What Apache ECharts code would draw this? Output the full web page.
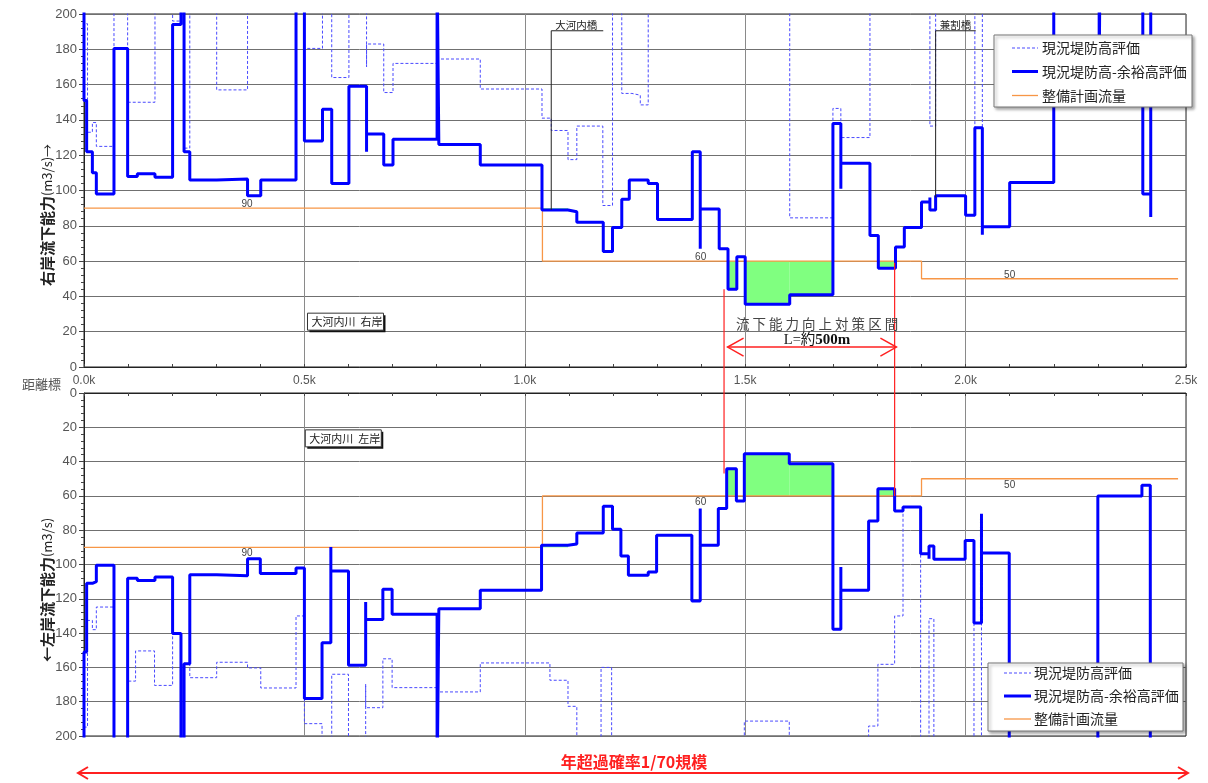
<!DOCTYPE html>
<html><head><meta charset="utf-8">
<script src="https://cdn.jsdelivr.net/npm/echarts@6/dist/echarts.min.js"></script>
<style>html,body{margin:0;padding:0;background:#fff}#c{width:1208px;height:783px}</style>
</head><body><div id="c"></div>
<script>
const JP = '"Noto Sans CJK JP", "Noto Sans", sans-serif';
const SANS = '"Liberation Sans", Arial, sans-serif';

// Series names
const NAME_DASH = '現況堤防高評価';
const NAME_SOLID = '現況堤防高-余裕高評価';
const NAME_PLAN = '整備計画流量';

// Distance (m) breakpoints; each value holds from its x up to the next x (values >200 run off the chart)
// Right bank (upper chart)
const rSolidX = [0,0,6,19,28,68,99,121,161,201,220,227,240,301,371,401,481,500,541,562,601,641,641,680,701,801,805,899,1039,1098,1118,1178,1199,1220,1237,1280,1301,1380,1398,1398,1441,1461,1481,1500,1601,1699,1717,1717,1783,1802,1841,1861,1900,1919,1919,1932,2000,2021,2038,2038,2100,2200,2303,2305,2402,2420,2420];
const rSolidY = [230,151,122,110,98,180.5,108,109.5,107.5,194,230,122,106,106.5,97,106,230,128,146,104,159,122,132,114.5,129,230,126,114.5,89,88,82,65.5,79,95,106,104,83.5,122,67,89.5,67,44,62.5,35.5,41,138,101,115.5,74.5,56,68,79,93.5,96,89,97,86,135.5,75,79.5,104.5,230,165,230,98,85,230];
const rDashX = [0,0,8,19,28,68,99,161,201,220,227,240,301,371,500,541,562,601,641,641,680,701,801,899,1039,1060,1098,1118,1177,1199,1220,1243,1262,1280,1601,1699,1717,1783,1919,1932,2021,2038,2421];
const rDashY = [230,194.5,133,138.5,125,230,150,230,196,230,124,230,157,230,180.5,230,164,230,170,183,155.5,172,174.5,157.5,141,134,117.5,136.5,91.5,230,155,154,148.5,230,84.5,146.5,130,230,136.5,230,135.5,230,230];
// Left bank (lower chart, inverted axis)
const lSolidX = [0,0,6,19,28,68,99,121,161,201,220,227,240,301,371,400,481,500,540,560,560,600,639,639,678,699,801,805,899,1038,1098,1118,1178,1199,1218,1235,1280,1299,1379,1398,1398,1439,1458,1480,1498,1600,1699,1717,1717,1780,1801,1839,1858,1898,1917,1917,1928,1999,2019,2036,2036,2099,2300,2400,2419];
const lSolidY = [230,151,111,110,100.5,230,108,109.3,107.3,140.3,230,157.8,106,106.5,96.6,105.3,102,178.2,145.6,89.8,103.8,158.8,121.9,132,114.5,129,230,125.8,115,88.8,88,81.6,66,79.5,95,106.3,104.4,83,121.3,67.4,88.8,67.4,44.1,63,35.4,41.2,137.8,101.5,115,74.6,55.8,68.8,66.5,93.7,96.6,89.2,97,86,134.1,70.4,93.3,230,60.1,53.8,230];
const lDashX = [0,0,8,19,28,68,99,117,160,201,220,227,240,301,371,401,481,500,540,562,600,639,639,678,699,801,899,1057,1098,1118,1173,1197,1498,1600,1780,1801,1839,1858,1898,1917,1928,2019,2036,2421];
const lDashY = [230,194.8,132.6,138,124.8,230,168,150.4,170.5,140.3,230,157.8,166,157,160.3,172,130,192.8,230,164,230,169.7,183.5,155,171.8,174.3,157.4,167.5,182.7,230,160,230,191.3,230,194.2,158.2,130,66.5,230,131.6,230,134.1,230,230];
// Planned discharge (both banks)
const planX = [0,1040,1900,2482];
const planY = [90,60,50,50];
const planLabelX = [370,1399,2100];
const planLabelV = ['90','60','50'];

// Annotations (data coordinates)
const bridges = [
  {name:'大河内橋', x:1060, base:89, top:190.5, end:1178},
  {name:'兼割橋', x:1932, base:96, top:190.5, end:2023}
];
const xTicks = ['0.0k','0.5k','1.0k','1.5k','2.0k','2.5k'];

const COL_DASH = '#4a4aff', COL_SOLID = '#0000ff', COL_PLAN = '#f79646';

const pairs = (xs, ys) => xs.map((x,i)=>[x, ys[i]]);
function planAt(x){ let v = planY[0]; for (let i=0;i<planX.length;i++) if (x >= planX[i]) v = planY[i]; return v; }
function deficit(xs, ys){
  const out = [];
  for (let i=0;i<xs.length-1;i++){
    const x0 = xs[i], x1 = xs[i+1];
    if (x1 <= x0) continue;
    const p = planAt(x0);
    if (ys[i] < p) out.push([x0, x1, ys[i], p]);
  }
  return out;
}

const chart = echarts.init(document.getElementById('c'));

function xAxis(gi){
  return {
    type:'value', gridIndex:gi, min:0, max:2500, interval:500,
    position: gi === 0 ? 'bottom' : 'top',
    axisLine:{show:true, onZero:false, lineStyle:{color:'#222'}},
    axisTick:{show:true, inside:true, length:3, lineStyle:{color:'#444'}},
    minorTick:{show:true, splitNumber:5, length:3, lineStyle:{color:'#444'}},
    axisLabel:{show: gi === 0, margin:8, color:'#555', fontFamily:SANS, fontSize:12,
      formatter:(v)=> xTicks[Math.round(v/500)]},
    splitLine:{show:true, lineStyle:{color:'#8a8a8a', width:1}}
  };
}
function yAxis(gi){
  return {
    type:'value', gridIndex:gi, min:0, max:200, interval:20, inverse: gi === 1,
    axisLine:{show:true, lineStyle:{color:'#222'}},
    axisTick:{show:true, length:5, lineStyle:{color:'#444'}},
    minorTick:{show:true, splitNumber:5, length:3, lineStyle:{color:'#444'}},
    axisLabel:{margin:7, color:'#555', fontFamily:SANS, fontSize:13},
    splitLine:{show:true, lineStyle:{color:'#707070', width:1}}
  };
}
function bankSeries(gi, sx, sy, dx, dy){
  return [
    {type:'custom', name:'不足', xAxisIndex:gi, yAxisIndex:gi, z:1,
      data: deficit(sx, sy), encode:{x:[0,1], y:[2,3]},
      renderItem:(params, api)=>{
        const a = api.coord([api.value(0), api.value(2)]);
        const b = api.coord([api.value(1), api.value(3)]);
        return {type:'rect', shape:{x:Math.min(a[0],b[0]), y:Math.min(a[1],b[1]),
          width:Math.abs(b[0]-a[0]), height:Math.abs(b[1]-a[1])},
          style:{fill:'#80ff80'}};
      }},
    {type:'line', name:NAME_DASH, xAxisIndex:gi, yAxisIndex:gi, step:'end', z:2,
      symbol:'none', data: pairs(dx, dy), animation:false,
      lineStyle:{color:COL_DASH, width:1, type:[3,2]}, itemStyle:{color:COL_DASH}},
    {type:'line', name:NAME_PLAN, xAxisIndex:gi, yAxisIndex:gi, step:'end', z:3,
      symbol:'none', data: pairs(planX, planY), animation:false,
      lineStyle:{color:COL_PLAN, width:1.3}, itemStyle:{color:COL_PLAN}},
    {type:'line', name:NAME_SOLID, xAxisIndex:gi, yAxisIndex:gi, step:'end', z:4,
      symbol:'none', data: pairs(sx, sy), animation:false,
      lineStyle:{color:COL_SOLID, width:3}, itemStyle:{color:COL_SOLID}}
  ];
}

chart.setOption({
  animation:false,
  grid:[
    {left:84, right:22, top:14, height:353, show:true, borderColor:'#222', borderWidth:1, backgroundColor:'#fff'},
    {left:84, right:22, top:393, height:343, show:true, borderColor:'#222', borderWidth:1, backgroundColor:'#fff'}
  ],
  xAxis:[xAxis(0), xAxis(1)],
  yAxis:[yAxis(0), yAxis(1)],
  series:[...bankSeries(0, rSolidX, rSolidY, rDashX, rDashY), ...bankSeries(1, lSolidX, lSolidY, lDashX, lDashY)]
});

function drawAnnotations(){
  const P = (gi, x, y) => chart.convertToPixel({xAxisIndex:gi, yAxisIndex:gi}, [x, y]);
  const g = [];
  const line = (a, b, color, w, dash) => g.push({type:'line', silent:true, z:100,
    shape:{x1:a[0], y1:a[1], x2:b[0], y2:b[1]}, style:{stroke:color, lineWidth:w || 1, lineDash:dash || null}});
  const poly = (pts, color, w) => g.push({type:'polyline', silent:true, z:100,
    shape:{points:pts}, style:{stroke:color, lineWidth:w || 1, fill:null}});
  const text = (x, y, t, opt) => g.push({type:'text', silent:true, z:101,
    style:Object.assign({x, y, text:t, fill:'#333', fontFamily:JP, fontSize:11,
      textAlign:'left', textVerticalAlign:'middle'}, opt || {})});

  // bridges
  bridges.forEach(b => {
    const p0 = P(0, b.x, b.base), p1 = P(0, b.x, b.top), p2 = P(0, b.end, b.top);
    line(p0, p1, '#222', 1);
    line(p1, p2, '#222', 1);
    text(p1[0] + 4, p1[1] - 1, b.name, {textVerticalAlign:'bottom', fontSize:10.5, fill:'#222'});
  });

  // planned discharge value labels
  planLabelX.forEach((x, i) => {
    const v = planY[i];
    const a = P(0, x, v), b = P(1, x, v);
    text(a[0], a[1] - 4, planLabelV[i], {textAlign:'center', fontFamily:SANS, fontSize:10, fill:'#444'});
    text(b[0], b[1] + 6, planLabelV[i], {textAlign:'center', fontFamily:SANS, fontSize:10, fill:'#444'});
  });

  // river labels with shadowed boxes
  const box = (gi, x, y, t) => {
    const p = P(gi, x, y);
    const w = 76, h = 17;
    g.push({type:'rect', silent:true, z:100, shape:{x:p[0]+2, y:p[1]+2, width:w, height:h}, style:{fill:'#111'}});
    g.push({type:'rect', silent:true, z:100, shape:{x:p[0], y:p[1], width:w, height:h}, style:{fill:'#fff', stroke:'#333', lineWidth:1}});
    text(p[0] + 4, p[1] + h/2 + 0.5, t, {fontSize:11, fill:'#222'});
  };
  box(0, 507, 30.5, '大河内川  右岸');
  box(1, 502, 21.5, '大河内川  左岸');

  // legends
  const legendBox = (x, y, w, h, rows, iconX0, iconX1, textX) => {
    g.push({type:'rect', silent:true, z:110, shape:{x, y, width:w, height:h},
      style:{fill:'#fff', stroke:'#777', lineWidth:1, shadowColor:'rgba(0,0,0,0.35)', shadowBlur:3, shadowOffsetX:2, shadowOffsetY:2}});
    const items = [
      {name:NAME_DASH, color:COL_DASH, w:1.2, dash:[3,2]},
      {name:NAME_SOLID, color:COL_SOLID, w:3, dash:null},
      {name:NAME_PLAN, color:COL_PLAN, w:1.3, dash:null}
    ];
    items.forEach((it, i) => {
      const yy = rows[i];
      g.push({type:'line', silent:true, z:112, shape:{x1:iconX0, y1:yy, x2:iconX1, y2:yy},
        style:{stroke:it.color, lineWidth:it.w, lineDash:it.dash}});
      g.push({type:'text', silent:true, z:112, style:{x:textX, y:yy, text:it.name, fill:'#222',
        fontFamily:JP, fontSize:14, textAlign:'left', textVerticalAlign:'middle'}});
    });
  };
  legendBox(994, 35, 198, 72, [48, 71.5, 95.5], 1012, 1038, 1042);
  legendBox(988, 663, 195, 68, [673, 696, 719], 1004, 1031, 1034);

  // improvement section: red verticals and dimension arrow
  const red = '#ff2020';
  line(P(0, 1452, 44), [P(0, 1452, 0)[0], P(1, 1452, 47)[1]], red, 1.2);
  line(P(0, 1839, 59), [P(0, 1839, 0)[0], P(1, 1839, 60)[1]], red, 1.2);
  const al = P(0, 1460, 11.3), ar = P(0, 1843, 11.3);
  line(al, ar, red, 1.5);
  poly([[al[0]+16, al[1]-9],[al[0], al[1]],[al[0]+16, al[1]+9]], red, 1.5);
  poly([[ar[0]-16, ar[1]-9],[ar[0], ar[1]],[ar[0]-16, ar[1]+9]], red, 1.5);
  const tc = P(0, 1663, 24.6);
  text(tc[0], tc[1], '流 下 能 力 向 上 対 策 区 間', {textAlign:'center', fontSize:13.5, fill:'#444'});
  const lc = P(0, 1663, 15.3);
  g.push({type:'text', silent:true, z:101, style:{x:lc[0], y:lc[1], textAlign:'center', textVerticalAlign:'middle',
    text:'{a|L=約}{b|500m}', rich:{
      a:{fontFamily:'"Liberation Serif", "Noto Sans CJK JP", serif', fontSize:14.5, fill:'#111'},
      b:{fontFamily:'"Liberation Serif", serif', fontSize:15, fontWeight:'bold', fill:'#111'}}}});

  // axis titles
  g.push({type:'text', silent:true, z:101, x:47, y:215, rotation:Math.PI/2,
    style:{x:0, y:0, textAlign:'center', textVerticalAlign:'middle',
      text:'{b|右岸流下能力}{n|(m3/s)→}', rich:{
        b:{fontFamily:JP, fontSize:15, fontWeight:'bold', fill:'#222'},
        n:{fontFamily:JP, fontSize:13, fill:'#222'}}}});
  g.push({type:'text', silent:true, z:101, x:47, y:590, rotation:Math.PI/2,
    style:{x:0, y:0, textAlign:'center', textVerticalAlign:'middle',
      text:'{b|←左岸流下能力}{n|(m3/s)}', rich:{
        b:{fontFamily:JP, fontSize:15, fontWeight:'bold', fill:'#222'},
        n:{fontFamily:JP, fontSize:13, fill:'#222'}}}});
  text(22, 384, '距離標', {fontSize:13, fill:'#555'});

  // return period arrow at the bottom
  const yA = 773, xl = 78, xr = 1188;
  line([xl, yA], [xr, yA], red, 2);
  poly([[xl+10, yA-6],[xl, yA],[xl+10, yA+6]], red, 2);
  poly([[xr-10, yA-6],[xr, yA],[xr-10, yA+6]], red, 2);
  text(634, 762, '年超過確率1/70規模', {textAlign:'center', fontSize:16, fontWeight:'bold', fill:red});

  chart.setOption({graphic:g});
}
drawAnnotations();
</script>
</body></html>
